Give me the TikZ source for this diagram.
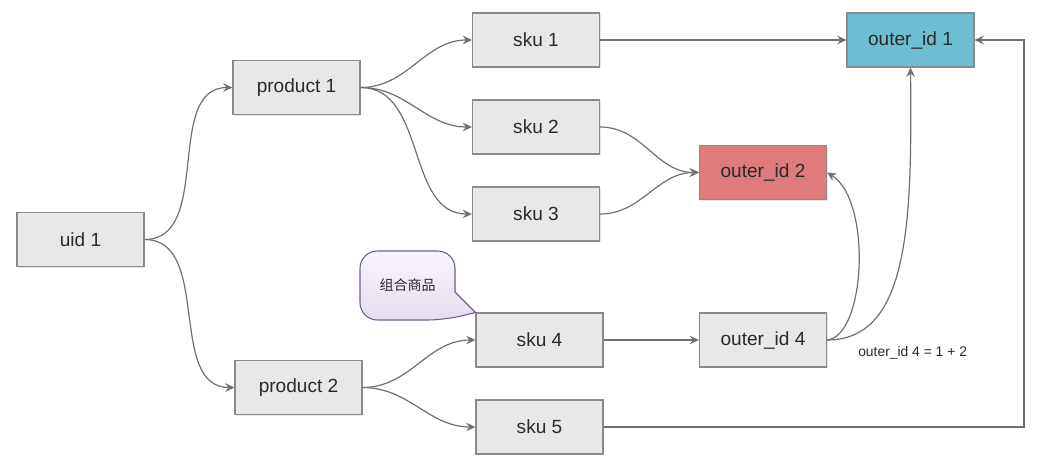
\documentclass[tikz,border=0pt]{standalone}
\usepackage{fontspec}
\setmainfont{Liberation Sans}
\newfontfamily\cjk{Noto Sans CJK SC}
\usetikzlibrary{arrows.meta,shadows}
\definecolor{boxfill}{HTML}{E8E8E8}
\definecolor{boxline}{HTML}{8A8A8A}
\definecolor{textc}{HTML}{2A2A2A}
\definecolor{linec}{HTML}{707070}
\definecolor{bluefill}{HTML}{6DBDD3}
\definecolor{redfill}{HTML}{DF7B7B}
\definecolor{calloutline}{HTML}{6E5F8E}
\definecolor{callouttop}{HTML}{F8F5FB}
\definecolor{calloutbot}{HTML}{E6DDEF}
\begin{document}
\begin{tikzpicture}[x=0.75pt,y=-0.75pt,
  box/.style={draw=boxline, fill=boxfill, minimum width=95.25pt, minimum height=40.5pt,
    inner sep=0pt, font=\fontsize{14.3}{17}\selectfont, text=textc, line width=0.8pt,
    drop shadow={shadow xshift=0.8pt, shadow yshift=-0.8pt, opacity=0.18}},
  conn/.style={draw=linec, line width=0.9pt, -{Stealth[length=7pt,width=6.5pt,inset=2.5pt]}}]
\useasboundingbox (0,0) rectangle (1045,468);

\node[box] (uid) at (80.5,239.5) {uid 1};
\node[box] (p1) at (296.5,87.5) {product 1};
\node[box] (p2) at (298.5,387.5) {product 2};
\node[box] (s1) at (536,40) {sku 1};
\node[box] (s2) at (536,127) {sku 2};
\node[box] (s3) at (536,214) {sku 3};
\node[box] (s4) at (539.5,340) {sku 4};
\node[box] (s5) at (539.5,427) {sku 5};
\node[box, fill=bluefill] (o1) at (910.5,40) {outer\_id 1};
\node[box, fill=redfill] (o2) at (763,172.5) {outer\_id 2};
\node[box] (o4) at (763,340) {outer\_id 4};

\draw[conn] (uid.east) to[out=0,in=180] (p1.west);
\draw[conn] (uid.east) to[out=0,in=180] (p2.west);
\draw[conn] (p1.east) to[out=0,in=180] (s1.west);
\draw[conn] (p1.east) to[out=0,in=180] (s2.west);
\draw[conn] (p1.east) to[out=0,in=180] (s3.west);
\draw[conn] (p2.east) to[out=0,in=180] (s4.west);
\draw[conn] (p2.east) to[out=0,in=180] (s5.west);
\draw[conn] (s1.east) -- (o1.west);
\draw[conn] (s2.east) to[out=0,in=180] (o2.west);
\draw[conn] (s3.east) to[out=0,in=180] (o2.west);
\draw[conn] (s4.east) -- (o4.west);
\draw[conn] (o4.east) .. controls (866,336) and (872,200) .. (o2.east);
\draw[conn] (o4.east) .. controls (910,340) and (912,220) .. (o1.south);
\coordinate (turn) at (1024,427);
\draw[conn] (s5.east) -- (turn) |- (o1.east);

\path[draw=calloutline, top color=callouttop, bottom color=calloutbot, line width=0.8pt]
  (s4.north west) -- (455,292) [rounded corners=13] -- (455,251) -- (360,251) -- (360,320) -- (445,320) [sharp corners] -- cycle;
\node[font=\cjk\fontsize{10.5}{12}\selectfont, text=textc] (callout) at (407.5,285) {组合商品};

\node[font=\fontsize{10.4}{12}\selectfont, text=textc, anchor=west, inner sep=0pt] (eq) at (858,353) {outer\_id 4 = 1 + 2};
\end{tikzpicture}
\end{document}
